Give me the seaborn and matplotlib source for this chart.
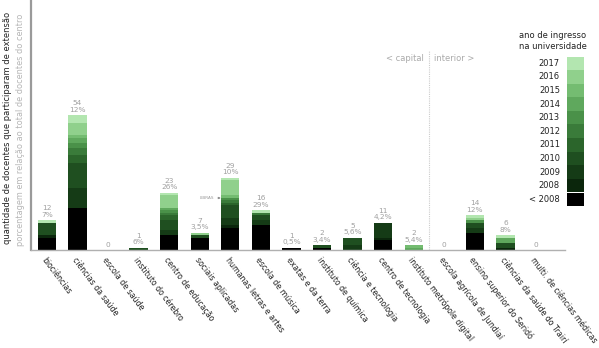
import matplotlib
matplotlib.use("Agg")
import matplotlib.pyplot as plt
import seaborn as sns
import numpy as np
import pandas as pd
from matplotlib.patches import Rectangle

sns.set_theme(style="white")
plt.rcParams['font.family'] = ['DejaVu Sans']

centros = ["biociências", "ciências da saúde", "escola de saúde", "instituto do cérebro",
           "centro de educação", "sociais aplicadas", "humanas letras e artes", "escola de música",
           "exatas e da terra", "instituto de química", "ciência e tecnologia", "centro de tecnologia",
           "instituto metrópole digital", "escola agrícola de Jundiaí", "ensino superior do Seridó",
           "ciências da saúde do Trairí", "multi. de ciências médicas"]
anos = ["< 2008", "2008", "2009", "2010", "2011", "2012", "2013", "2014", "2015", "2016", "2017"]
cores = ["#000000", "#0b260c", "#153b16", "#1f4f20", "#2b652b", "#3a7b3a",
         "#4a9149", "#5fa85d", "#74bc71", "#90d08c", "#b3e6b0"]

# docentes por ano de ingresso (linhas = anos, colunas = centros)
v_pre2008 = [5, 17, 0, 0, 6, 5, 9, 10, 1, 1, 0, 4, 0, 0, 7, 0, 0]
v_2008    = [1, 0, 0, 0, 0, 0, 1, 0, 0, 0, 0, 1, 0, 0, 0, 1, 0]
v_2009    = [0, 8, 0, 0, 2, 0, 3, 2, 0, 0, 2, 6, 0, 0, 2, 0, 0]
v_2010    = [5, 10, 0, 1, 4, 1, 5, 2, 0, 1, 3, 0, 0, 0, 2, 2, 0]
v_2011    = [0, 3, 0, 0, 2, 0, 1, 0, 0, 0, 0, 0, 0, 0, 0, 0, 0]
v_2012    = [0, 3, 0, 0, 1, 0, 1, 1, 0, 0, 0, 0, 0, 0, 0, 0, 0]
v_2013    = [0, 2, 0, 0, 1, 0, 1, 0, 0, 0, 0, 0, 0, 0, 1, 0, 0]
v_2014    = [0, 2, 0, 0, 1, 0, 0, 0, 0, 0, 0, 0, 1, 0, 0, 2, 0]
v_2015    = [0, 1, 0, 0, 0, 0, 1, 0, 0, 0, 0, 0, 1, 0, 0, 0, 0]
v_2016    = [0, 5, 0, 0, 5, 1, 6, 0, 0, 0, 0, 0, 0, 0, 1, 0, 0]
v_2017    = [1, 3, 0, 0, 1, 0, 1, 1, 0, 0, 0, 0, 0, 0, 1, 1, 0]
percentuais = ["7%", "12%", "", "6%", "26%", "3,5%", "10%", "29%", "0,5%", "3,4%",
               "5,6%", "4,2%", "5,4%", "", "12%", "8%", ""]

valores = [v_pre2008, v_2008, v_2009, v_2010, v_2011, v_2012, v_2013, v_2014, v_2015, v_2016, v_2017]
df = pd.DataFrame(np.array(valores).T, columns=anos)
df.insert(0, "centro", centros)
cum = df[anos].cumsum(axis=1)
totais = cum[anos[-1]].values

W, H = 599, 348
fig = plt.figure(figsize=(W / 100, H / 100), dpi=100)
ax = fig.add_axes([31 / W, 1 - 250 / H, (565 - 31) / W, 250 / H])

for ano, cor in zip(anos[::-1], cores[::-1]):
    d = pd.DataFrame({"centro": centros, "y": cum[ano].values})
    sns.barplot(data=d, x="centro", y="y", color=cor, width=0.6, order=centros,
                saturation=1, ax=ax, linewidth=0, errorbar=None)

ax.set_xlim(-0.52, 16.95)
ax.set_ylim(0, 100)
ax.set_xlabel("")
ax.set_ylabel("")
ax.set_yticks([])
ax.tick_params(axis="x", length=0, pad=4)
ax.set_xticks(range(len(centros)))
ax.set_xticklabels(centros, rotation=-53, ha="left", va="top", rotation_mode="anchor",
                   fontsize=5.6, color="#222222")
for s in ["top", "right"]:
    ax.spines[s].set_visible(False)
ax.spines["left"].set_color("#9a9a9a")
ax.spines["left"].set_linewidth(1.6)
ax.spines["bottom"].set_color("#b0b0b0")
ax.spines["bottom"].set_linewidth(1.0)

# rótulos de valor
for i, (t, p) in enumerate(zip(totais, percentuais)):
    txt = f"{t}\n{p}" if p else f"{t}"
    ax.annotate(txt, (i, t), xytext=(0, 1.5), textcoords="offset points", ha="center",
                va="bottom", fontsize=5.3, color="#a0a0a0", linespacing=1.15)

# LIBRAS
ax.annotate("LIBRAS", xy=(5.68, 20.8), xytext=(5.25, 20.8), fontsize=3, color="#999999",
            ha="center", va="center",
            arrowprops=dict(arrowstyle="-|>", color="#888888", lw=0.5, mutation_scale=3,
                            shrinkA=1, shrinkB=0))

# divisor capital / interior
ax.plot([12.5, 12.5], [0, 79.5], color="#cccccc", lw=0.8, ls=(0, (1, 1)))
ax.text(12.32, 76.5, "< capital", ha="right", va="center", fontsize=6, color="#aaaaaa")
ax.text(12.68, 76.5, "interior >", ha="left", va="center", fontsize=6, color="#aaaaaa")

# eixos y (textos)
fig.text(8 / W, 1 - 244 / H, "quantidade de docentes que participaram de extensão",
         rotation=90, ha="center", va="bottom", fontsize=6.0, color="#222222")
fig.text(21 / W, 1 - 246 / H, "porcentagem em relação ao total de docentes do centro",
         rotation=90, ha="center", va="bottom", fontsize=5.9, color="#b5b5b5")

# legenda
fig.text(519 / W, 1 - 41 / H, "ano de ingresso\nna universidade", ha="left", va="center",
         fontsize=6, color="#222222", linespacing=1.3)
bx0, bw = 567, 16.5
by_top, bh = 56.5, 13.6
for k, (ano, cor) in enumerate(zip(anos[::-1], cores[::-1])):
    y0 = by_top + k * bh
    fig.patches.append(Rectangle((bx0 / W, 1 - (y0 + bh) / H), bw / W, bh / H,
                                 transform=fig.transFigure, facecolor=cor, edgecolor="none"))
    fig.text(560 / W, 1 - (y0 + bh / 2) / H, ano, ha="right", va="center",
             fontsize=6, color="#222222")

fig.savefig("out.png", dpi=100)
